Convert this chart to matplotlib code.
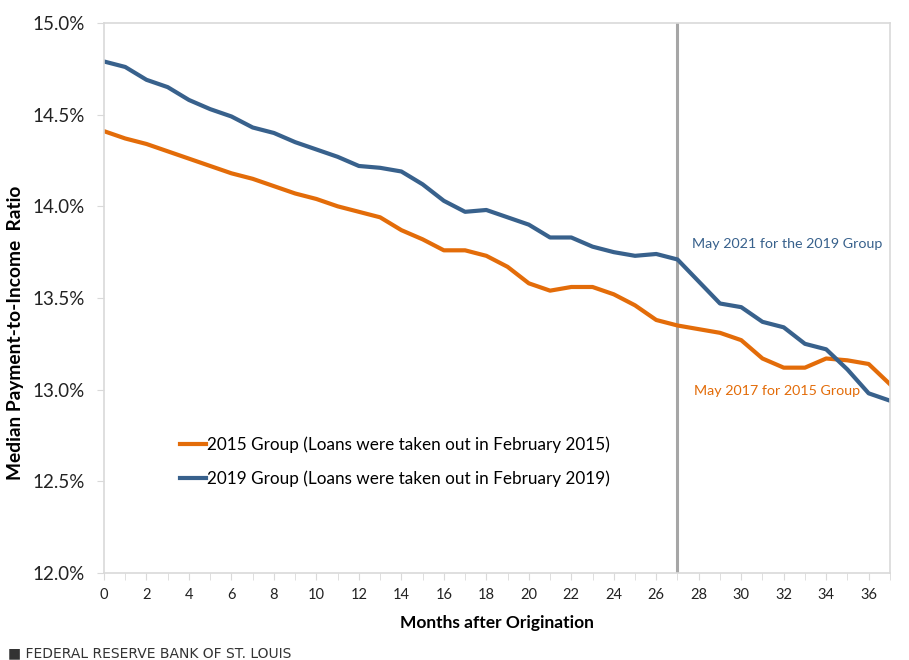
import matplotlib
matplotlib.use("Agg")
import matplotlib.pyplot as plt
from matplotlib.ticker import MultipleLocator, FuncFormatter

plt.rcParams['font.family'] = ['Lato', 'DejaVu Sans']

# months after origination
months = list(range(0, 38))

# median payment-to-income ratio, percent
group_2015 = [14.41, 14.37, 14.34, 14.30, 14.26, 14.22, 14.18, 14.15, 14.11, 14.07,
              14.04, 14.00, 13.97, 13.94, 13.87, 13.82, 13.76, 13.76, 13.73, 13.67,
              13.58, 13.54, 13.56, 13.56, 13.52, 13.46, 13.38, 13.35, 13.33, 13.31,
              13.27, 13.17, 13.12, 13.12, 13.17, 13.16, 13.14, 13.03]
group_2019 = [14.79, 14.76, 14.69, 14.65, 14.58, 14.53, 14.49, 14.43, 14.40, 14.35,
              14.31, 14.27, 14.22, 14.21, 14.19, 14.12, 14.03, 13.97, 13.98, 13.94,
              13.90, 13.83, 13.83, 13.78, 13.75, 13.73, 13.74, 13.71, 13.59, 13.47,
              13.45, 13.37, 13.34, 13.25, 13.22, 13.11, 12.98, 12.94]

label_2015 = "2015 Group (Loans were taken out in February 2015)"
label_2019 = "2019 Group (Loans were taken out in February 2019)"
marker_month = 27

orange = '#E36C09'
blue = '#38618C'
axis_grey = '#D9D9D9'

fig = plt.figure(figsize=(9.09, 6.6), dpi=100)
ax = fig.add_axes([0.1144, 0.1318, 0.8646, 0.8334])

ax.plot(months, group_2015, color=orange, lw=3, label=label_2015, solid_joinstyle='round')
ax.plot(months, group_2019, color=blue, lw=3, label=label_2019, solid_joinstyle='round')
ax.axvline(marker_month, color='#A6A6A6', lw=2.2, zorder=1)

ax.set_xlim(0, 37)
ax.set_ylim(12.0, 15.0)
ax.xaxis.set_major_locator(MultipleLocator(2))
ax.xaxis.set_minor_locator(MultipleLocator(1))
ax.yaxis.set_major_locator(MultipleLocator(0.5))
ax.yaxis.set_major_formatter(FuncFormatter(lambda v, p: f"{v:.1f}%"))

for s in ax.spines.values():
    s.set_color(axis_grey)
    s.set_linewidth(1.2)

ax.tick_params(axis='y', which='major', length=5, color=axis_grey, labelsize=13.5,
               labelcolor='#222222', pad=9)
ax.tick_params(axis='x', which='both', length=5, color=axis_grey, labelsize=10.5,
               labelcolor='#222222', pad=6)

ax.set_xlabel("Months after Origination", fontsize=12.5, fontweight='bold', labelpad=9)
ax.set_ylabel("Median Payment-to-Income  Ratio", fontsize=13.8, fontweight='bold', labelpad=4)
ax.yaxis.set_label_coords(-0.102, 0.436)

ax.text(27.7, 13.795, "May 2021 for the 2019 Group", color=blue, fontsize=10.3, va='center')
ax.text(27.8, 12.99, "May 2017 for 2015 Group", color=orange, fontsize=10.3, va='center')

leg = ax.legend(loc='upper left', bbox_to_anchor=(0.077, 0.276), frameon=False,
                fontsize=12.3, handlelength=1.5, handletextpad=0.1, labelspacing=1.0)

fig.text(0.009, 0.0, "\u25A0 FEDERAL RESERVE BANK OF ST. LOUIS", fontsize=10,
         color='#333333', va='bottom', family=['DejaVu Sans'])

fig.savefig("out.png", dpi=100)
